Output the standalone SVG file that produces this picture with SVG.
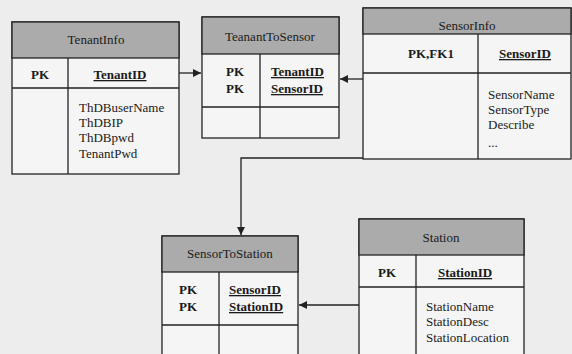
<svg xmlns="http://www.w3.org/2000/svg" width="572" height="354" viewBox="0 0 572 354">
<style>
.bg{fill:#ededed}
.box{fill:#f5f5f5;stroke:#222;stroke-width:1.3}
.hdr{fill:#ababab;stroke:#222;stroke-width:1.3}
.ln{stroke:#222;stroke-width:1.3;fill:none}
.t{text-anchor:middle}
.b{font-weight:bold}
.u{text-decoration:underline}
.conn{stroke:#222;stroke-width:1.3;fill:none;marker-end:url(#ah)}
</style>
<defs>
<marker id="ah" viewBox="0 0 10 10" refX="10" refY="5" markerWidth="8" markerHeight="8" markerUnits="userSpaceOnUse" orient="auto">
<path d="M0,0 L10,5 L0,10 z" fill="#222"/>
</marker>
</defs>
<rect class="bg" x="0" y="0" width="572" height="354"/>
<g font-family="Liberation Serif, DejaVu Serif, serif" font-size="13" fill="#1a1a1a">
<g id="TenantInfo">
<rect class="box" x="12" y="22" width="167" height="152"/>
<rect class="hdr" x="12" y="22" width="167" height="36"/>
<line class="ln" x1="12" y1="88" x2="179" y2="88"/>
<line class="ln" x1="68" y1="58" x2="68" y2="174"/>
<text class="t" x="96" y="44">TenantInfo</text>
<text class="t b" x="40" y="79">PK</text>
<text class="t b u" x="120" y="79">TenantID</text>
<text x="79" y="112">ThDBuserName</text>
<text x="79" y="127">ThDBIP</text>
<text x="79" y="142">ThDBpwd</text>
<text x="79" y="158">TenantPwd</text>
</g>

<g id="TeanantToSensor">
<rect class="box" x="202" y="17" width="137" height="121"/>
<rect class="hdr" x="202" y="17" width="137" height="37"/>
<line class="ln" x1="202" y1="107" x2="339" y2="107"/>
<line class="ln" x1="260" y1="54" x2="260" y2="138"/>
<text class="t" x="270" y="41">TeanantToSensor</text>
<text class="t b" x="235" y="76">PK</text>
<text class="t b" x="235" y="93">PK</text>
<text class="b u" x="271" y="76">TenantID</text>
<text class="b u" x="271" y="93">SensorID</text>
</g>

<g id="SensorInfo">
<rect class="box" x="363" y="8" width="208" height="151"/>
<rect class="hdr" x="363" y="8" width="208" height="26"/>
<line class="ln" x1="363" y1="73" x2="571" y2="73"/>
<line class="ln" x1="478" y1="34" x2="478" y2="159"/>
<text class="t" x="467" y="30">SensorInfo</text>
<text class="t b" x="431" y="58">PK,FK1</text>
<text class="t b u" x="525" y="58">SensorID</text>
<text x="488" y="99">SensorName</text>
<text x="488" y="114">SensorType</text>
<text x="488" y="129">Describe</text>
<text x="488" y="147">...</text>
</g>

<g id="SensorToStation">
<rect class="box" x="162" y="236" width="136" height="124"/>
<rect class="hdr" x="162" y="236" width="136" height="36"/>
<line class="ln" x1="162" y1="325" x2="298" y2="325"/>
<line class="ln" x1="219" y1="272" x2="219" y2="360"/>
<text class="t" x="230" y="258">SensorToStation</text>
<text class="t b" x="188" y="294">PK</text>
<text class="t b" x="188" y="311">PK</text>
<text class="b u" x="229" y="294">SensorID</text>
<text class="b u" x="229" y="311">StationID</text>
</g>

<g id="Station">
<rect class="box" x="359" y="219" width="165" height="141"/>
<rect class="hdr" x="359" y="219" width="165" height="36"/>
<line class="ln" x1="359" y1="287" x2="524" y2="287"/>
<line class="ln" x1="416" y1="255" x2="416" y2="360"/>
<text class="t" x="441" y="242">Station</text>
<text class="t b" x="387" y="277">PK</text>
<text class="t b u" x="465" y="277">StationID</text>
<text x="426" y="311">StationName</text>
<text x="426" y="326">StationDesc</text>
<text x="426" y="342">StationLocation</text>
</g>
</g>
<g id="connectors">
<path class="conn" d="M179,73 L201,73"/>
<path class="conn" d="M363,79 L340,79"/>
<path class="conn" d="M363,158 L241,158 L241,235"/>
<path class="conn" d="M359,305 L299,305"/>
</g>
</svg>
